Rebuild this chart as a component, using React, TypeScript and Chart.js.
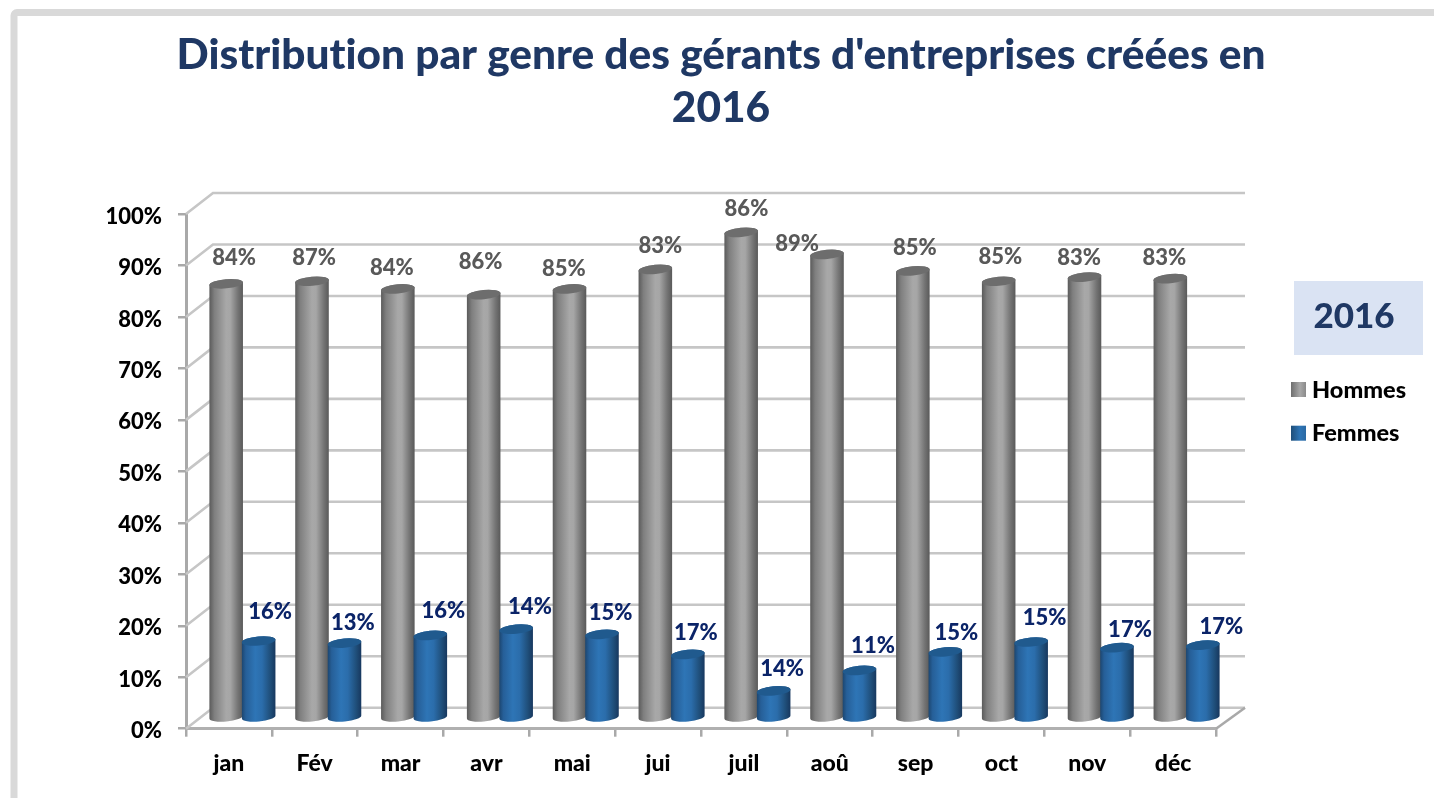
import React, { useEffect, useRef } from "react";
import { Chart, registerables } from "chart.js";

Chart.register(...registerables);

const titleLines = ["Distribution par genre des gérants d'entreprises créées en", "2016"];
const months = ["jan", "Fév", "mar", "avr", "mai", "jui", "juil", "aoû", "sep", "oct", "nov", "déc"];
const hommes = [84.4, 84.9, 83.4, 82.3, 83.4, 87.2, 94.4, 90.1, 86.9, 84.9, 85.7, 85.4];
const femmes = [15.0, 14.6, 16.1, 17.3, 16.3, 12.4, 5.3, 9.3, 12.9, 14.8, 13.7, 14.2];
const hommesLabels = ["84%", "87%", "84%", "86%", "85%", "83%", "86%", "89%", "85%", "85%", "83%", "83%"];
const femmesLabels = ["16%", "13%", "16%", "14%", "15%", "17%", "14%", "11%", "15%", "15%", "17%", "17%"];
const yearLabel = "2016";

// Hand-placed label offsets, relative to the top of each cylinder
const hommesNudgeX = [8, 2, -6, -3, -5.6, 5, 5.3, -30, 2, 1.6, -5.5, -6];
const hommesNudgeY = [-26, -23.5, -21.5, -33, -20, -23, -23.5, -11, -23.5, -24, -19.5, -21];
const femmesNudgeX = [11.5, 8.3, 13, 13.8, 8.6, 8, 8.4, 13.5, 11, 13.4, 13, 18.6];
const femmesNudgeY = [-29.5, -20, -24.5, -22, -21, -21, -22, -24.5, -19, -24, -18, -18];

const FONT = "Lato, Carlito, Calibri, sans-serif";
const WEIGHT = 900;
const DEPTH_X = 27;
const DEPTH_Y = 21;
const GREY_STOPS: [number, string][] = [[0, "#5a5a5a"], [0.15, "#7f7f7f"], [0.5, "#a8a8a8"], [0.62, "#a6a6a6"], [0.85, "#747474"], [1, "#595959"]];
const BLUE_STOPS: [number, string][] = [[0, "#1c4670"], [0.12, "#265f98"], [0.4, "#2e75b6"], [0.6, "#2b6dab"], [0.85, "#1f4e79"], [1, "#17375e"]];

function hGrad(ctx: CanvasRenderingContext2D, x0: number, x1: number, stops: [number, string][]) {
  const g = ctx.createLinearGradient(x0, 0, x1, 0);
  stops.forEach(([p, c]) => g.addColorStop(p, c));
  return g;
}

function cylinder(ctx: CanvasRenderingContext2D, x: number, top: number, base: number, rx: number, stops: [number, string][], cap: string) {
  const ry = 4.6;
  const rot = -0.09;
  ctx.beginPath();
  ctx.ellipse(x, base, rx, ry, rot, 0, Math.PI, false);
  ctx.ellipse(x, top, rx, ry, rot, Math.PI, Math.PI * 2, false);
  ctx.closePath();
  ctx.fillStyle = hGrad(ctx, x - rx, x + rx, stops);
  ctx.fill();
  ctx.beginPath();
  ctx.ellipse(x, top, rx, ry, rot, 0, Math.PI * 2);
  ctx.fillStyle = cap;
  ctx.fill();
}

const scene3d = {
  id: "scene3d",
  beforeDraw(chart: any) {
    const { ctx } = chart;
    (ctx as any).letterSpacing = "0.01px";
    ctx.save();
    ctx.strokeStyle = "#d9d9d9";
    ctx.lineWidth = 7;
    ctx.beginPath();
    ctx.roundRect(14, 12.5, 1500, 900, 3);
    ctx.stroke();
    ctx.restore();
  },
  afterLayout(chart: any) {
    chart.titleBlock.left = 8;
    chart.titleBlock.right = 1434;
  },
  beforeDatasetsDraw(chart: any) {
    const { ctx, chartArea, scales } = chart;
    const y = scales.y;
    const left = chartArea.left;
    const right = chartArea.right;
    ctx.save();
    // wall and floor lines
    ctx.strokeStyle = "#c6c6c6";
    ctx.lineWidth = 2.6;
    y.ticks.forEach((t: any) => {
      const py = y.getPixelForValue(t.value);
      ctx.beginPath();
      ctx.moveTo(left, py);
      ctx.lineTo(left + DEPTH_X, py - DEPTH_Y);
      ctx.lineTo(right + DEPTH_X + 2, py - DEPTH_Y);
      ctx.stroke();
    });
    ctx.strokeStyle = "#a9a9a9";
    ctx.beginPath();
    ctx.moveTo(right, y.getPixelForValue(0));
    ctx.lineTo(right + DEPTH_X + 2, y.getPixelForValue(0) - DEPTH_Y);
    ctx.stroke();

    // cylinders, back to front through the library's own bar elements
    const m0 = chart.getDatasetMeta(0).data;
    const m1 = chart.getDatasetMeta(1).data;
    const dx = DEPTH_X / 2;
    const dy = DEPTH_Y / 2;
    months.forEach((_, i) => {
      const a = m0[i];
      const b = m1[i];
      cylinder(ctx, a.x + dx, a.y - dy, a.base - dy, a.width / 2 + 0.6, GREY_STOPS, "#6d6d6d");
      cylinder(ctx, b.x + dx, b.y - dy, b.base - dy, b.width / 2 + 0.6, BLUE_STOPS, "#205a8e");
    });

    // data labels
    ctx.textAlign = "center";
    ctx.textBaseline = "middle";
    ctx.font = `${WEIGHT} 22px ${FONT}`;
    months.forEach((_, i) => {
      ctx.fillStyle = "#595959";
      ctx.fillText(hommesLabels[i], m0[i].x + dx + hommesNudgeX[i], m0[i].y - dy + hommesNudgeY[i]);
    });
    months.forEach((_, i) => {
      ctx.fillStyle = "#0b2468";
      ctx.fillText(femmesLabels[i], m1[i].x + dx + femmesNudgeX[i], m1[i].y - dy + femmesNudgeY[i]);
    });

    // year box
    ctx.fillStyle = "#dae3f3";
    ctx.fillRect(1294, 281, 129, 74);
    ctx.fillStyle = "#1f3864";
    ctx.font = `${WEIGHT} 35px ${FONT}`;
    ctx.fillText(yearLabel, 1354, 317);

    // legend
    ctx.textAlign = "left";
    ctx.font = `${WEIGHT} 23.5px ${FONT}`;
    chart.data.datasets.forEach((d: any, i: number) => {
      const top = 382 + i * 43.7;
      ctx.fillStyle = hGrad(ctx, 1291, 1306, i === 0
        ? [[0, "#6f6f6f"], [0.6, "#a8a8a8"], [1, "#8a8a8a"]]
        : [[0, "#1f4e79"], [0.6, "#2e75b6"], [1, "#2a69a3"]]);
      ctx.fillRect(1291, top, 15, 15);
      ctx.fillStyle = "#000";
      ctx.fillText(d.label, 1312, top + 8);
    });
    ctx.restore();
    return false;
  },
};

export default function App() {
  const ref = useRef<HTMLCanvasElement>(null);
  useEffect(() => {
    const chart = new Chart(ref.current!, {
      type: "bar",
      data: {
        labels: months,
        datasets: [
          { label: "Hommes", data: hommes, backgroundColor: "#a6a6a6" },
          { label: "Femmes", data: femmes, backgroundColor: "#2e75b6" },
        ],
      },
      plugins: [scene3d],
      options: {
        responsive: false,
        animation: false,
        events: [],
        layout: { padding: { left: 0, right: 218, top: 0, bottom: 0 } },
        datasets: { bar: { categoryPercentage: 0.757, barPercentage: 1 } },
        plugins: {
          legend: { display: false },
          tooltip: { enabled: false },
          title: {
            display: true,
            text: titleLines,
            color: "#1f3864",
            font: { family: FONT, size: 42.4, weight: WEIGHT, lineHeight: 53 / 42.4 },
            padding: { top: 28.5, bottom: 79.5 },
          },
        },
        scales: {
          x: {
            afterFit: (s: any) => { s.height = 69.3; },
            grid: { drawOnChartArea: false, color: "#a9a9a9", lineWidth: 2.5, tickLength: 8, offset: true },
            border: { color: "#b0b0b0", width: 3 },
            ticks: { color: "#000", padding: 13, maxRotation: 0, font: { family: FONT, size: 23, weight: WEIGHT } },
          },
          y: {
            min: 0,
            max: 100,
            afterFit: (s: any) => { s.width = 186; },
            grid: { drawOnChartArea: false, color: "#a9a9a9", lineWidth: 2.5, tickLength: 8 },
            border: { color: "#a9a9a9", width: 3 },
            ticks: { color: "#000", stepSize: 10, padding: 16, labelOffset: 2.5, font: { family: FONT, size: 22, weight: WEIGHT }, callback: (v: any) => `${v}%` },
          },
        },
      } as any,
    });
    return () => chart.destroy();
  }, []);
  return (
    <div style={{ position: "absolute", left: 0, top: 0, width: 1434, height: 798, overflow: "hidden", background: "#fff" }}>
      <canvas ref={ref} width={1434} height={798} style={{ display: "block" }} />
    </div>
  );
}
